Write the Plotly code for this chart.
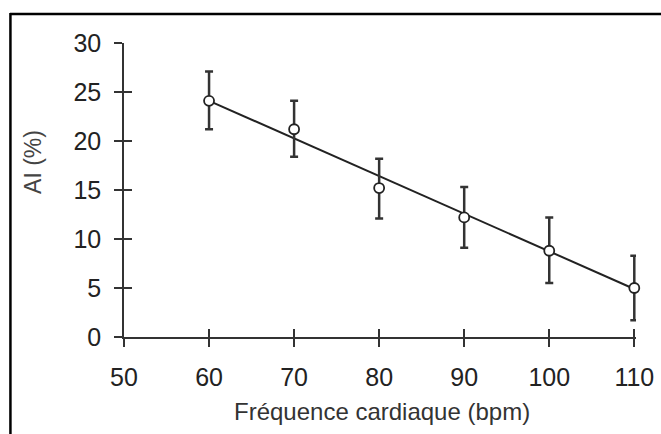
import plotly.graph_objects as go

# Data
heart_rate = [60, 70, 80, 90, 100, 110]
ai_mean = [24.1, 21.2, 15.2, 12.2, 8.8, 5.0]
err_plus = [3.0, 2.9, 3.0, 3.1, 3.4, 3.3]
err_minus = [2.9, 2.8, 3.1, 3.1, 3.3, 3.3]
fit_x = [60, 110]
fit_y = [24.1, 4.9]
x_ticks = [50, 60, 70, 80, 90, 100, 110]
y_ticks = [0, 5, 10, 15, 20, 25, 30]

FONT = "Liberation Sans, Arial, sans-serif"
INK = "#222222"

X_RANGE = [50, 110.2]
PLOT_W = 510 * (X_RANGE[1] - X_RANGE[0]) / 60.0
R_MARGIN = 661 - 124 - PLOT_W

fig = go.Figure()

fig.add_trace(go.Scatter(
    x=fit_x, y=fit_y, mode="lines", cliponaxis=False,
    line=dict(color=INK, width=2), hoverinfo="skip", showlegend=False))

fig.add_trace(go.Scatter(
    x=heart_rate, y=ai_mean, mode="markers", cliponaxis=False,
    marker=dict(symbol="circle", size=10, color="white",
                line=dict(color=INK, width=1.8)),
    error_y=dict(type="data", array=err_plus, arrayminus=err_minus,
                 color="#333333", thickness=2.5, width=4),
    showlegend=False))

# invisible anchor trace for the overlay axes (inner halves of crossing ticks)
fig.add_trace(go.Scatter(
    x=heart_rate, y=ai_mean, xaxis="x2", yaxis="y2", mode="markers",
    marker=dict(opacity=0), hoverinfo="skip", showlegend=False))

axis_common = dict(showgrid=False, zeroline=False, ticks="outside", ticklen=8,
                   tickwidth=1.6, tickcolor="#333333", showline=True,
                   linecolor="#333333", linewidth=1.6, automargin=False,
                   tickfont=dict(family=FONT, size=25, color=INK))

overlay_common = dict(showticklabels=False, ticks="inside", ticklen=8, tickwidth=1.6,
                      tickcolor="#333333", showgrid=False, zeroline=False,
                      showline=False, automargin=False)

fig.update_layout(
    width=661, height=434,
    margin=dict(l=124, r=R_MARGIN, t=43, b=97),
    paper_bgcolor="white", plot_bgcolor="white",
    xaxis=dict(range=X_RANGE, tickvals=x_ticks, ticklabelstandoff=9, **axis_common),
    yaxis=dict(range=[0, 30], tickvals=y_ticks, ticklabelstandoff=8, **axis_common),
    xaxis2=dict(range=X_RANGE, tickvals=x_ticks, overlaying="x", anchor="y2",
                **overlay_common),
    yaxis2=dict(range=[0, 30], tickvals=y_ticks, overlaying="y", anchor="x2",
                **overlay_common),
    annotations=[
        dict(text="Fréquence cardiaque (bpm)", xref="paper", yref="paper",
             x=(382 - 124) / PLOT_W, y=(337 - 411) / 294, showarrow=False,
             xanchor="center", yanchor="middle",
             font=dict(family=FONT, size=24, color="#333333")),
        dict(text="AI (%)", xref="paper", yref="paper",
             x=(33 - 124) / PLOT_W, y=(337 - 162) / 294, showarrow=False,
             textangle=-90, xanchor="center", yanchor="middle",
             font=dict(family=FONT, size=23, color="#444444")),
    ],
    shapes=[
        dict(type="line", xref="paper", yref="paper",
             x0=(10 - 124) / PLOT_W, x1=(661 - 124) / PLOT_W,
             y0=(337 - 14) / 294, y1=(337 - 14) / 294,
             line=dict(color="black", width=2.5)),
        dict(type="line", xref="paper", yref="paper",
             x0=(10.5 - 124) / PLOT_W, x1=(10.5 - 124) / PLOT_W,
             y0=(337 - 13) / 294, y1=(337 - 434) / 294,
             line=dict(color="black", width=2.5)),
    ],
)

fig.write_html("out.html",
               config={"displayModeBar": False},
               post_script="document.body.style.margin='0';"
                           "document.body.style.overflow='hidden';")
